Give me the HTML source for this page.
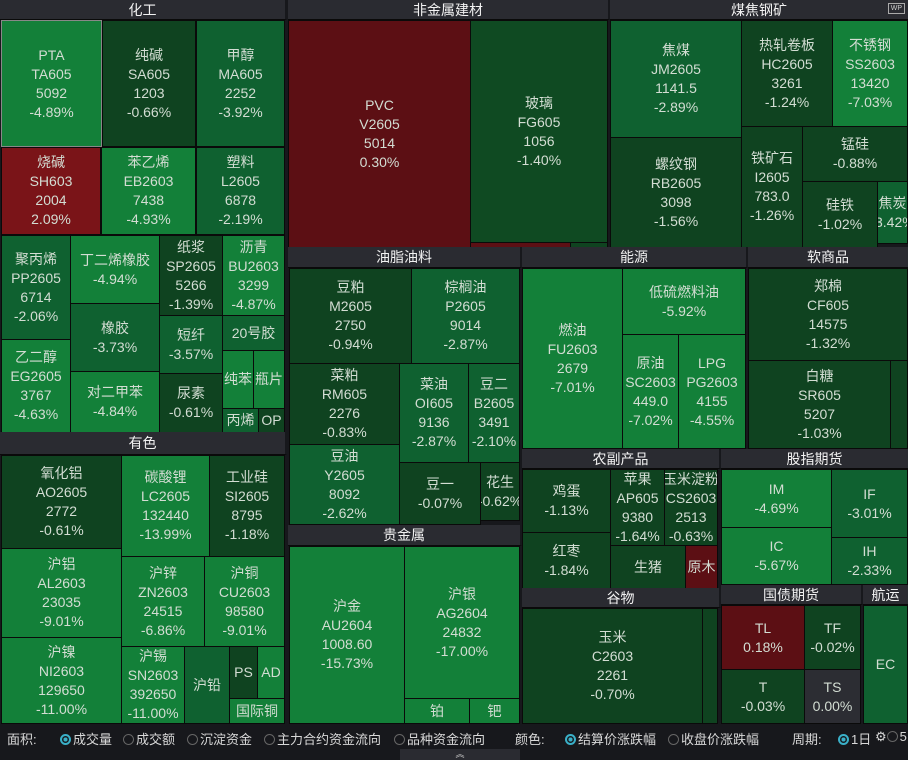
<!DOCTYPE html>
<html><head><meta charset="utf-8"><style>
body{margin:0;width:908px;height:760px;background:#17181c;overflow:hidden;position:relative;font-family:"Liberation Sans","Noto Sans CJK SC",sans-serif}
.t{position:absolute;box-sizing:border-box;border:1px solid #0a0a0a;display:flex;flex-direction:column;justify-content:center;align-items:center;color:#d3ddd3;font-size:14px;line-height:19px;text-align:center;overflow:hidden;white-space:nowrap}
.h{position:absolute;box-sizing:border-box;background:#2a2b31;color:#f2f2f2;font-size:14px;display:flex;justify-content:center;align-items:center;border-bottom:1px solid #0a0a0a;border-right:2px solid #17181c}
.L{background:#138039}.M{background:#0f6130}.D{background:#0f4320}.R{background:#5c0f14}.R2{background:#7a1418}.G{background:#2c2d33}
.bar{position:absolute;top:729px;font-size:13px;color:#d8d8d8;white-space:nowrap}
.r{display:inline-block;width:9px;height:9px;border:1px solid #666;border-radius:50%;vertical-align:-1px;margin-right:2px}
.r.on{border:2px solid #3ab0c8;width:7px;height:7px;background:radial-gradient(#3ab0c8 40%,#17181c 45%)}
</style></head><body>
<div class="h" style="left:0;top:0;width:287px;height:20px">化工</div>
<div class="t L" style="left:1px;top:20px;width:101px;height:127px;border-color:#888">PTA<br>TA605<br>5092<br>-4.89%</div>
<div class="t D" style="left:102px;top:20px;width:94px;height:127px">纯碱<br>SA605<br>1203<br>-0.66%</div>
<div class="t M" style="left:196px;top:20px;width:89px;height:127px">甲醇<br>MA605<br>2252<br>-3.92%</div>
<div class="t R2" style="left:1px;top:147px;width:100px;height:88px">烧碱<br>SH603<br>2004<br>2.09%</div>
<div class="t L" style="left:101px;top:147px;width:95px;height:88px">苯乙烯<br>EB2603<br>7438<br>-4.93%</div>
<div class="t M" style="left:196px;top:147px;width:89px;height:88px">塑料<br>L2605<br>6878<br>-2.19%</div>
<div class="t M" style="left:1px;top:235px;width:70px;height:105px">聚丙烯<br>PP2605<br>6714<br>-2.06%</div>
<div class="t L" style="left:1px;top:339px;width:70px;height:94px">乙二醇<br>EG2605<br>3767<br>-4.63%</div>
<div class="t L" style="left:70px;top:235px;width:90px;height:69px">丁二烯橡胶<br>-4.94%</div>
<div class="t M" style="left:70px;top:303px;width:90px;height:69px">橡胶<br>-3.73%</div>
<div class="t L" style="left:70px;top:371px;width:90px;height:62px">对二甲苯<br>-4.84%</div>
<div class="t D" style="left:159px;top:235px;width:64px;height:81px">纸浆<br>SP2605<br>5266<br>-1.39%</div>
<div class="t M" style="left:159px;top:315px;width:64px;height:59px">短纤<br>-3.57%</div>
<div class="t D" style="left:159px;top:373px;width:64px;height:60px">尿素<br>-0.61%</div>
<div class="t L" style="left:222px;top:235px;width:63px;height:81px">沥青<br>BU2603<br>3299<br>-4.87%</div>
<div class="t M" style="left:222px;top:315px;width:63px;height:36px">20号胶</div>
<div class="t L" style="left:222px;top:350px;width:32px;height:59px">纯苯</div>
<div class="t L" style="left:253px;top:350px;width:32px;height:59px">瓶片</div>
<div class="t M" style="left:222px;top:408px;width:37px;height:25px">丙烯</div>
<div class="t D" style="left:258px;top:408px;width:27px;height:25px">OP</div>
<div class="h" style="left:0;top:432px;width:287px;height:23px">有色</div>
<div class="t D" style="left:1px;top:455px;width:121px;height:94px">氧化铝<br>AO2605<br>2772<br>-0.61%</div>
<div class="t L" style="left:1px;top:548px;width:121px;height:90px">沪铝<br>AL2603<br>23035<br>-9.01%</div>
<div class="t L" style="left:1px;top:637px;width:121px;height:87px">沪镍<br>NI2603<br>129650<br>-11.00%</div>
<div class="t L" style="left:121px;top:455px;width:89px;height:102px">碳酸锂<br>LC2605<br>132440<br>-13.99%</div>
<div class="t D" style="left:209px;top:455px;width:76px;height:102px">工业硅<br>SI2605<br>8795<br>-1.18%</div>
<div class="t L" style="left:121px;top:556px;width:84px;height:91px">沪锌<br>ZN2603<br>24515<br>-6.86%</div>
<div class="t L" style="left:204px;top:556px;width:81px;height:91px">沪铜<br>CU2603<br>98580<br>-9.01%</div>
<div class="t L" style="left:121px;top:646px;width:64px;height:78px">沪锡<br>SN2603<br>392650<br>-11.00%</div>
<div class="t M" style="left:184px;top:646px;width:46px;height:78px">沪铅</div>
<div class="t D" style="left:229px;top:646px;width:29px;height:53px">PS</div>
<div class="t L" style="left:257px;top:646px;width:28px;height:53px">AD</div>
<div class="t L" style="left:229px;top:698px;width:56px;height:26px">国际铜</div>

<div class="h" style="left:288px;top:0;width:322px;height:20px">非金属建材</div>
<div class="t R" style="left:288px;top:20px;width:183px;height:228px">PVC<br>V2605<br>5014<br>0.30%</div>
<div class="t D" style="left:470px;top:20px;width:138px;height:223px;background:#0f4a22">玻璃<br>FG605<br>1056<br>-1.40%</div>
<div class="t R" style="left:470px;top:242px;width:101px;height:6px"></div>
<div class="t D" style="left:570px;top:242px;width:38px;height:6px"></div>
<div class="h" style="left:288px;top:247px;width:234px;height:21px">油脂油料</div>
<div class="t D" style="left:289px;top:268px;width:123px;height:96px">豆粕<br>M2605<br>2750<br>-0.94%</div>
<div class="t M" style="left:411px;top:268px;width:109px;height:96px">棕榈油<br>P2605<br>9014<br>-2.87%</div>
<div class="t D" style="left:289px;top:363px;width:111px;height:82px">菜粕<br>RM605<br>2276<br>-0.83%</div>
<div class="t M" style="left:289px;top:444px;width:111px;height:81px">豆油<br>Y2605<br>8092<br>-2.62%</div>
<div class="t M" style="left:399px;top:363px;width:70px;height:100px">菜油<br>OI605<br>9136<br>-2.87%</div>
<div class="t M" style="left:468px;top:363px;width:52px;height:100px">豆二<br>B2605<br>3491<br>-2.10%</div>
<div class="t D" style="left:399px;top:462px;width:82px;height:63px">豆一<br>-0.07%</div>
<div class="t D" style="left:480px;top:462px;width:40px;height:59px">花生<br>-0.62%</div>
<div class="h" style="left:288px;top:525px;width:234px;height:21px">贵金属</div>
<div class="t L" style="left:289px;top:546px;width:116px;height:178px">沪金<br>AU2604<br>1008.60<br>-15.73%</div>
<div class="t L" style="left:404px;top:546px;width:116px;height:153px">沪银<br>AG2604<br>24832<br>-17.00%</div>
<div class="t L" style="left:404px;top:698px;width:66px;height:26px">铂</div>
<div class="t L" style="left:469px;top:698px;width:51px;height:26px">钯</div>

<div class="h" style="left:610px;top:0;width:298px;height:20px;border-right:0">煤焦钢矿<span style="position:absolute;right:3px;top:3px;font-size:7px;border:1px solid #aaa;padding:1px 2px;color:#ccc">WP</span></div>
<div class="t M" style="left:610px;top:20px;width:132px;height:118px">焦煤<br>JM2605<br>1141.5<br>-2.89%</div>
<div class="t D" style="left:610px;top:137px;width:132px;height:111px">螺纹钢<br>RB2605<br>3098<br>-1.56%</div>
<div class="t D" style="left:741px;top:20px;width:92px;height:107px">热轧卷板<br>HC2605<br>3261<br>-1.24%</div>
<div class="t L" style="left:832px;top:20px;width:76px;height:107px">不锈钢<br>SS2603<br>13420<br>-7.03%</div>
<div class="t D" style="left:741px;top:126px;width:62px;height:122px">铁矿石<br>I2605<br>783.0<br>-1.26%</div>
<div class="t D" style="left:802px;top:126px;width:106px;height:56px">锰硅<br>-0.88%</div>
<div class="t D" style="left:802px;top:181px;width:76px;height:67px">硅铁<br>-1.02%</div>
<div class="t M" style="left:877px;top:181px;width:31px;height:63px">焦炭<br>-3.42%</div>
<div class="h" style="left:522px;top:247px;width:226px;height:21px">能源</div>
<div class="t L" style="left:522px;top:268px;width:101px;height:181px">燃油<br>FU2603<br>2679<br>-7.01%</div>
<div class="t L" style="left:622px;top:268px;width:124px;height:67px">低硫燃料油<br>-5.92%</div>
<div class="t L" style="left:622px;top:334px;width:57px;height:115px">原油<br>SC2603<br>449.0<br>-7.02%</div>
<div class="t L" style="left:678px;top:334px;width:68px;height:115px">LPG<br>PG2603<br>4155<br>-4.55%</div>
<div class="h" style="left:748px;top:247px;width:160px;height:21px;border-right:0">软商品</div>
<div class="t D" style="left:748px;top:268px;width:160px;height:93px">郑棉<br>CF605<br>14575<br>-1.32%</div>
<div class="t D" style="left:748px;top:360px;width:143px;height:89px">白糖<br>SR605<br>5207<br>-1.03%</div>
<div class="t D" style="left:890px;top:360px;width:18px;height:89px"></div>
<div class="h" style="left:522px;top:449px;width:199px;height:20px">农副产品</div>
<div class="t D" style="left:522px;top:469px;width:89px;height:64px">鸡蛋<br>-1.13%</div>
<div class="t D" style="left:522px;top:532px;width:89px;height:57px">红枣<br>-1.84%</div>
<div class="t D" style="left:610px;top:469px;width:55px;height:77px">苹果<br>AP605<br>9380<br>-1.64%</div>
<div class="t D" style="left:664px;top:469px;width:54px;height:77px">玉米淀粉<br>CS2603<br>2513<br>-0.63%</div>
<div class="t D" style="left:610px;top:545px;width:76px;height:44px">生猪</div>
<div class="t R" style="left:685px;top:545px;width:33px;height:44px">原木</div>
<div class="h" style="left:522px;top:588px;width:199px;height:20px">谷物</div>
<div class="t D" style="left:522px;top:608px;width:181px;height:116px">玉米<br>C2603<br>2261<br>-0.70%</div>
<div class="t D" style="left:702px;top:608px;width:16px;height:116px"></div>
<div class="h" style="left:721px;top:449px;width:187px;height:20px;border-right:0">股指期货</div>
<div class="t L" style="left:721px;top:469px;width:111px;height:59px">IM<br>-4.69%</div>
<div class="t L" style="left:721px;top:527px;width:111px;height:58px">IC<br>-5.67%</div>
<div class="t M" style="left:831px;top:469px;width:77px;height:69px">IF<br>-3.01%</div>
<div class="t M" style="left:831px;top:537px;width:77px;height:48px">IH<br>-2.33%</div>
<div class="h" style="left:721px;top:585px;width:142px;height:20px">国债期货</div>
<div class="t R" style="left:721px;top:605px;width:84px;height:65px">TL<br>0.18%</div>
<div class="t D" style="left:804px;top:605px;width:57px;height:65px">TF<br>-0.02%</div>
<div class="t D" style="left:721px;top:669px;width:84px;height:55px">T<br>-0.03%</div>
<div class="t G" style="left:804px;top:669px;width:57px;height:55px">TS<br>0.00%</div>
<div class="h" style="left:863px;top:585px;width:45px;height:20px;border-right:0">航运</div>
<div class="t M" style="left:863px;top:605px;width:45px;height:119px">EC</div>

<div class="bar" style="left:7px">面积:</div>
<div class="bar" style="left:60px"><span class="r on"></span>成交量</div>
<div class="bar" style="left:123px"><span class="r"></span>成交额</div>
<div class="bar" style="left:187px"><span class="r"></span>沉淀资金</div>
<div class="bar" style="left:264px"><span class="r"></span>主力合约资金流向</div>
<div class="bar" style="left:394px"><span class="r"></span>品种资金流向</div>
<div class="bar" style="left:515px">颜色:</div>
<div class="bar" style="left:565px"><span class="r on"></span>结算价涨跌幅</div>
<div class="bar" style="left:668px"><span class="r"></span>收盘价涨跌幅</div>
<div class="bar" style="left:792px">周期:</div>
<div class="bar" style="left:838px"><span class="r on"></span>1日</div>
<div class="bar" style="left:875px">⚙<span class="r"></span>5</div>
<div style="position:absolute;left:400px;top:749px;width:120px;height:11px;background:#2a2b31;color:#ccc;font-size:9px;text-align:center;line-height:11px">︽</div>
</body></html>
